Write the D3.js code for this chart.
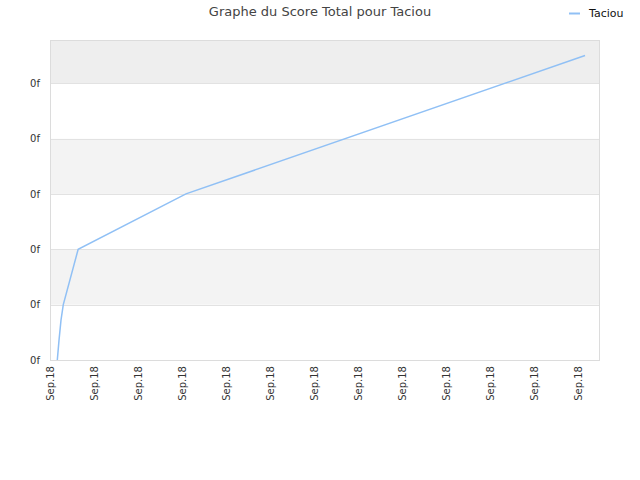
<!DOCTYPE html>
<html>
<head>
<meta charset="utf-8">
<script src="https://cdn.jsdelivr.net/npm/d3@7/dist/d3.min.js"></script>
<style>
body{margin:0;background:#fff;}
text{font-family:"DejaVu Sans",sans-serif;}
</style>
</head>
<body>
<svg id="c" width="640" height="480"></svg>
<script>
// Data (x in tick units, y in score units)
const seriesName = "Taciou";
const title = "Graphe du Score Total pour Taciou";
const xValues = [0.166, 0.205, 0.25, 0.302, 0.64, 3.09, 12.16];
const yValues = [0, 0.36, 0.72, 1.0, 2.0, 3.0, 5.5];
const xTicks = [0,1,2,3,4,5,6,7,8,9,10,11,12];
const xTickLabel = "Sep.18";
const yTicks = [0,1,2,3,4,5];
const yTickLabel = "0f";

const svg = d3.select("#c");
const L=50,R=600,T=40,B=360;
const x = d3.scaleLinear().domain([0,12.5]).range([L,R]);
const y = d3.scaleLinear().domain([0,5.78]).range([B,T]);

// bands
const bandEdges = yTicks.concat([5.78]);
for(let i=0;i<bandEdges.length-1;i++){
  let fill = (i%2===1)?"#f3f3f3":"#ffffff";
  if(i===bandEdges.length-2) fill="#eeeeee";
  svg.append("rect").attr("x",L).attr("width",R-L)
    .attr("y",y(bandEdges[i+1])).attr("height",y(bandEdges[i])-y(bandEdges[i+1]))
    .attr("fill",fill);
}
// gridlines
svg.append("g").selectAll("line").data(yTicks.slice(1)).join("line")
  .attr("x1",L).attr("x2",R).attr("y1",d=>Math.round(y(d))+0.5).attr("y2",d=>Math.round(y(d))+0.5)
  .attr("stroke","#e2e2e2");
// frame
svg.append("rect").attr("x",L+0.5).attr("y",T+0.5).attr("width",R-L-1).attr("height",B-T)
  .attr("fill","none").attr("stroke","#dcdcdc");

// y axis
const yAxis = d3.axisLeft(y).tickValues(yTicks).tickFormat(()=>yTickLabel).tickSize(0).tickPadding(10);
const ya = svg.append("g").attr("transform",`translate(${L},0)`).call(yAxis);
ya.select(".domain").remove();
ya.selectAll("text").attr("fill","#333").style("font-size","10px");

// x axis
const xAxis = d3.axisBottom(x).tickValues(xTicks).tickFormat(()=>xTickLabel).tickSize(0);
const xa = svg.append("g").attr("transform",`translate(0,${B})`).call(xAxis);
xa.select(".domain").remove();
xa.selectAll("text").attr("fill","#333").style("font-size","10px")
  .attr("transform","rotate(-90)").attr("text-anchor","end")
  .attr("x",-6).attr("y",0).attr("dy","0.35em");

// line
const pts = xValues.map((v,i)=>[v,yValues[i]]);
svg.append("path").datum(pts)
  .attr("d",d3.line().x(d=>x(d[0])).y(d=>y(d[1])))
  .attr("fill","none").attr("stroke","#90c0f5").attr("stroke-width",1.5);

// title
svg.append("text").attr("x",320).attr("y",16).attr("text-anchor","middle")
  .attr("fill","#444").style("font-size","13px").text(title);
// legend
svg.append("line").attr("x1",569).attr("x2",580).attr("y1",13.5).attr("y2",13.5)
  .attr("stroke","#90c0f5").attr("stroke-width",2);
svg.append("text").attr("x",589).attr("y",17).attr("fill","#111")
  .style("font-size","11px").text(seriesName);
</script>
</body>
</html>
